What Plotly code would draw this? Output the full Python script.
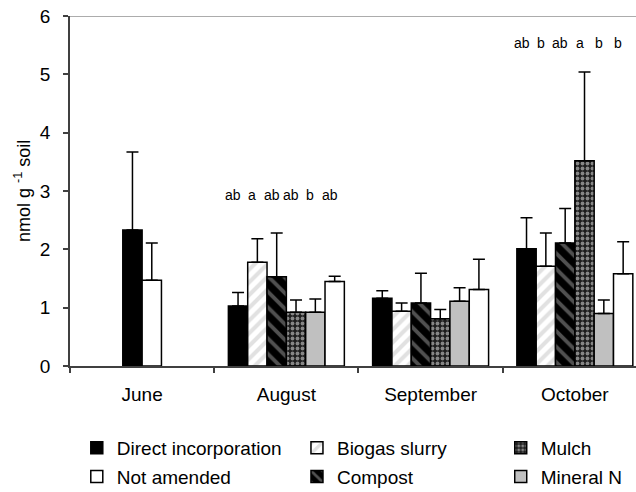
import plotly.graph_objects as go

# Sampling months (categories on the x axis)
months = ["June", "August", "September", "October"]

# Treatment names, in drawing order within each month
treatments = ["Direct incorporation", "Biogas slurry", "Compost", "Mulch",
              "Mineral N", "Not amended"]

# Mean values (nmol g-1 soil); None = not sampled
direct_incorporation = [2.33, 1.03, 1.16, 2.01]
biogas_slurry = [None, 1.78, 0.94, 1.71]
compost = [None, 1.53, 1.08, 2.11]
mulch = [None, 0.92, 0.81, 3.52]
mineral_n = [None, 0.92, 1.11, 0.90]
not_amended = [1.47, 1.45, 1.31, 1.58]

# Upper error (standard deviation) for each mean
sd_direct_incorporation = [1.34, 0.23, 0.13, 0.53]
sd_biogas_slurry = [None, 0.40, 0.14, 0.57]
sd_compost = [None, 0.75, 0.51, 0.59]
sd_mulch = [None, 0.21, 0.16, 1.52]
sd_mineral_n = [None, 0.23, 0.23, 0.23]
sd_not_amended = [0.64, 0.09, 0.52, 0.55]

# Significance letters above the bars
letters_august = ["ab", "a", "ab", "ab", "b", "ab"]
letters_october = ["ab", "b", "ab", "a", "b", "b"]

means = [direct_incorporation, biogas_slurry, compost, mulch, mineral_n, not_amended]
sds = [sd_direct_incorporation, sd_biogas_slurry, sd_compost, sd_mulch,
       sd_mineral_n, sd_not_amended]

FONT = "'Liberation Sans', Arial, sans-serif"
BAR_W = 0.134  # width of one bar, in category units

styles = [
    dict(color="black"),
    dict(color="white", pattern=dict(shape="/", fgcolor="#c4c4c4", bgcolor="white",
                                     size=9, solidity=0.45)),
    dict(color="black", pattern=dict(shape="\\", fgcolor="#a0a0a0", bgcolor="black",
                                     size=11, solidity=0.35)),
    dict(color="#404040", pattern=dict(shape=".", fgcolor="#f0f0f0", bgcolor="#1c1c1c",
                                       size=5, solidity=0.45)),
    dict(color="#c0c0c0"),
    dict(color="white"),
]

# legend column and position in the legend for each treatment
legend_of = ["legend", "legend2", "legend2", "legend3", "legend3", "legend"]
rank_of = [1, 1, 2, 1, 2, 2]


def slot_offset(trace_idx, month_idx):
    """Left edge of a bar relative to its category centre."""
    if month_idx == 0:
        # only two treatments sampled in June: draw them side by side, centred
        return -BAR_W if trace_idx == 0 else 0.0
    return -3 * BAR_W + trace_idx * BAR_W


fig = go.Figure()
for i, name in enumerate(treatments):
    fig.add_trace(go.Bar(
        name=name,
        x=months,
        y=means[i],
        width=BAR_W,
        offset=[slot_offset(i, m) for m in range(len(months))],
        marker=dict(**styles[i], line=dict(color="black", width=1.5)),
        error_y=dict(type="data", array=sds[i], symmetric=False,
                     arrayminus=[0] * len(months), color="black",
                     thickness=1.5, width=6),
        legend=legend_of[i],
        legendgroup=name,
        legendrank=rank_of[i],
    ))

annotations = []
for m_idx, letters, y in [(1, letters_august, 2.93), (3, letters_october, 5.53)]:
    for i, t in enumerate(letters):
        annotations.append(dict(
            x=m_idx + slot_offset(i, m_idx) + BAR_W / 2, y=y, xref="x", yref="y",
            text=t, showarrow=False, xshift=-5,
            font=dict(family=FONT, size=14, color="black"),
        ))

annotations.append(dict(
    x=0, y=0.5, xref="paper", yref="paper", xshift=-48,
    xanchor="center", yanchor="middle",
    text="nmol g <sup>-1</sup> soil", textangle=-90, showarrow=False,
    font=dict(family=FONT, size=18, color="black"),
))

legend_common = dict(
    font=dict(family=FONT, size=19, color="black"),
    bgcolor="rgba(0,0,0,0)", orientation="v", xanchor="left", yanchor="top",
    traceorder="grouped", tracegroupgap=1,
)

fig.update_layout(
    width=636, height=492,
    margin=dict(l=70, r=0, t=16, b=126, autoexpand=False),
    plot_bgcolor="white", paper_bgcolor="white",
    barmode="overlay",
    font=dict(family=FONT, size=18, color="black"),
    xaxis=dict(
        type="category", range=[-0.5, 3.424], tickson="boundaries",
        ticks="outside", ticklen=5, tickcolor="#404040", tickwidth=1.5,
        showline=True, linecolor="#404040", linewidth=1.5,
        showgrid=False, ticklabelstandoff=10,
        tickfont=dict(family=FONT, size=19, color="black"),
    ),
    yaxis=dict(
        range=[0, 6], dtick=1, ticks="outside", ticklen=5,
        tickcolor="#404040", tickwidth=1.5,
        showline=True, linecolor="#404040", linewidth=1.5,
        showgrid=False, zeroline=False, ticklabelstandoff=9,
        tickfont=dict(family=FONT, size=19, color="black"),
    ),
    legend=dict(x=0.012, y=-0.18, **legend_common),
    legend2=dict(x=0.401, y=-0.18, **legend_common),
    legend3=dict(x=0.761, y=-0.18, **legend_common),
    annotations=annotations,
    shapes=[dict(type="line", xref="paper", yref="y", x0=0, x1=1, y0=6, y1=6,
                 line=dict(color="#909090", width=1.5))],
)

fig.write_html("out.html")
